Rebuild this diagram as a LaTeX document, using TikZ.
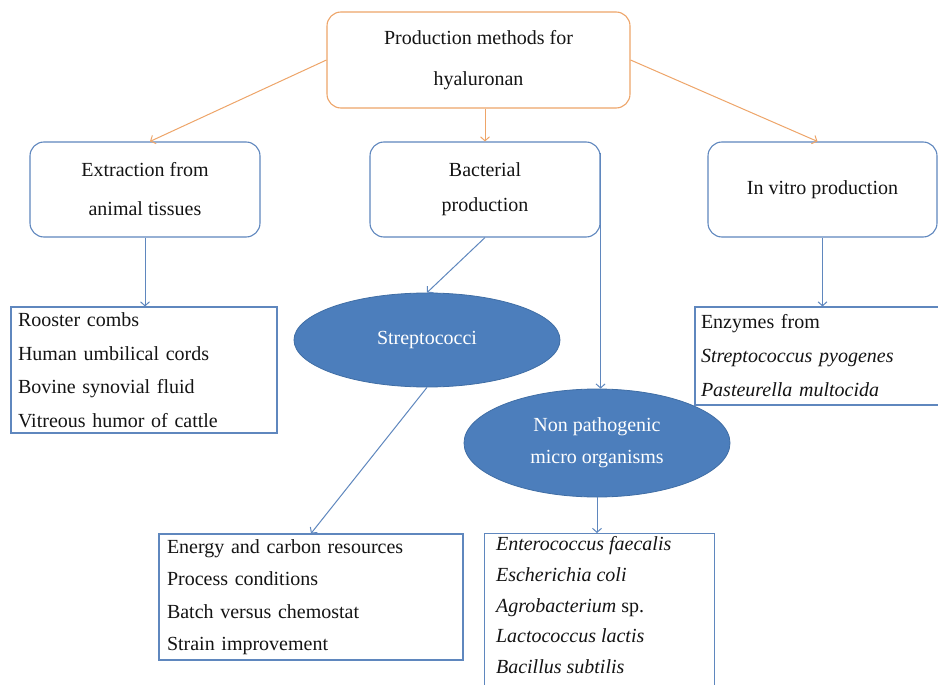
\documentclass[tikz,border=0pt]{standalone}
\usepackage{fontspec}
\setmainfont{Liberation Serif}
\usetikzlibrary{shapes.geometric,arrows.meta,calc}
\definecolor{bblue}{RGB}{95,135,190}
\definecolor{efill}{RGB}{76,126,188}
\definecolor{eedge}{RGB}{64,110,165}
\definecolor{borange}{RGB}{238,165,105}
\definecolor{txt}{RGB}{20,20,20}
\begin{document}
\begin{tikzpicture}[x=1pt,y=-1pt,
  rbox/.style={draw=bblue,line width=1.1pt,rounded corners=14pt,align=center,inner sep=0pt,text=txt},
  obox/.style={rbox,draw=borange},
  lst/.style={draw=bblue,line width=1.1pt,text=txt,align=left,inner ysep=0pt},
  ell/.style={ellipse,fill=efill,draw=eedge,line width=0.8pt,text=white,align=center,inner sep=0pt,
              font=\fontsize{20}{32}\selectfont},
  arr/.style={draw=bblue,line width=1pt,-{Straight Barb[length=4pt,width=9pt]}},
  oarr/.style={arr,draw=borange}]
\useasboundingbox (0,0) rectangle (938,685);
\fill[white] (0,0) rectangle (938,685);
\begin{scope}
\clip (0,0) rectangle (938,685);
% top
\node[obox,minimum width=303pt,minimum height=96pt,font=\fontsize{20}{41}\selectfont] (top) at (478.5,60)
  {Production methods for\\hyaluronan};
% second row
\node[rbox,minimum width=230pt,minimum height=95pt,font=\fontsize{20}{39}\selectfont] (ext) at (145,189.5)
  {Extraction from\\animal tissues};
\node[rbox,minimum width=230pt,minimum height=95pt,font=\fontsize{20}{35}\selectfont] (bact) at (485,189.5)
  {Bacterial\\production};
\node[rbox,minimum width=229pt,minimum height=95pt,font=\fontsize{20}{35}\selectfont] (inv) at (822.5,189.5)
  {In vitro production};
% lists
\node[lst,minimum width=266pt,minimum height=126pt,text width=252pt,inner xsep=7pt,
      font=\fontsize{20}{33.5}\selectfont] (roost) at (144,370)
  {Rooster combs\\Human umbilical cords\\Bovine synovial fluid\\Vitreous humor of cattle};
\node[ell,minimum width=266pt,minimum height=94pt] (strep) at (427,340) {Streptococci};
\node[ell,minimum width=266pt,minimum height=108pt] (np) at (597,443) {Non pathogenic\\micro organisms};
\node[lst,minimum width=250pt,minimum height=98pt,text width=238pt,inner xsep=6pt,
      font=\fontsize{20}{34}\selectfont] (enz) at (820,356)
  {Enzymes from\\\textit{Streptococcus pyogenes}\\\textit{Pasteurella multocida}};
\node[lst,minimum width=304pt,minimum height=126pt,text width=288pt,inner xsep=8pt,
      font=\fontsize{20}{32.5}\selectfont] (energy) at (311,597)
  {Energy and carbon resources\\Process conditions\\Batch versus chemostat\\Strain improvement};
\node[lst,anchor=north west,inner xsep=12pt,inner ysep=3pt] (ent) at (483.5,533)
  {\parbox[c][170pt][t]{206pt}{\fontsize{20}{30.7}\selectfont
   \textit{Enterococcus faecalis}\\\textit{Escherichia coli}\\\textit{Agrobacterium} sp.\\
   \textit{Lactococcus lactis}\\\textit{Bacillus subtilis}\par}};
% connectors
\draw[oarr] (top.west) -- ([xshift=5pt]ext.north);
\draw[oarr] (top.south -| bact.north) -- (bact.north);
\draw[oarr] (top.east) -- ([xshift=-5pt]inv.north);
\draw[arr] (ext.south) -- (ext.south |- roost.north);
\draw[arr] (bact.south) -- (strep.north);
\draw[arr] ([yshift=37pt]bact.east) -- (bact.east |- np.north);
\draw[arr] (inv.south) -- (inv.south |- enz.north);
\draw[arr] (strep.south) -- (energy.north);
\draw[arr] (np.south) -- (np.south |- ent.north);
\end{scope}
\end{tikzpicture}
\end{document}
